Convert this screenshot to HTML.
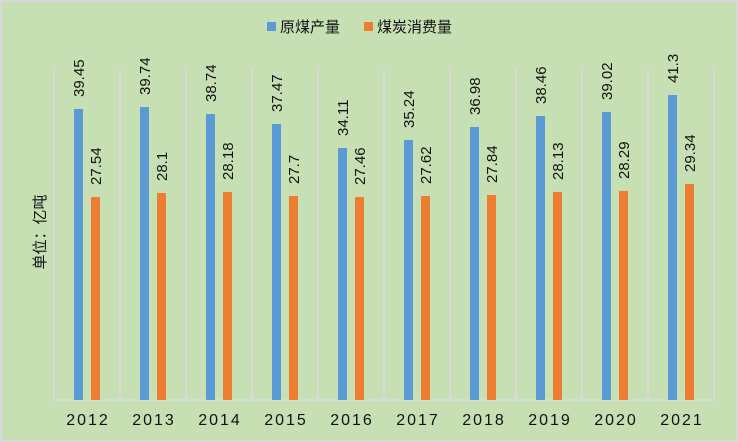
<!DOCTYPE html><html><head><meta charset="utf-8"><style>body{margin:0}svg{display:block}text{font-family:"Liberation Sans","Noto Sans CJK SC",sans-serif;fill:#111}</style></head><body>
<svg width="738" height="442" xmlns="http://www.w3.org/2000/svg">
<rect x="1" y="1" width="736" height="440" fill="#c6e0b4" stroke="#d9d9d9" stroke-width="2"/>
<g stroke="#d9d9d9" stroke-width="2">
<line x1="54" y1="68" x2="54" y2="400"/><line x1="120" y1="68" x2="120" y2="400"/><line x1="186" y1="68" x2="186" y2="400"/><line x1="252" y1="68" x2="252" y2="400"/><line x1="318" y1="68" x2="318" y2="400"/><line x1="384" y1="68" x2="384" y2="400"/><line x1="450" y1="68" x2="450" y2="400"/><line x1="516" y1="68" x2="516" y2="400"/><line x1="582" y1="68" x2="582" y2="400"/><line x1="648" y1="68" x2="648" y2="400"/><line x1="714" y1="68" x2="714" y2="400"/>
<line x1="53" y1="400" x2="715" y2="400"/>
</g>
<g fill="#5b9bd5">
<rect x="74" y="109" width="9" height="291"/><rect x="140" y="107" width="9" height="293"/><rect x="206" y="114" width="9" height="286"/><rect x="272" y="124" width="9" height="276"/><rect x="338" y="148" width="9" height="252"/><rect x="404" y="140" width="9" height="260"/><rect x="470" y="127" width="9" height="273"/><rect x="536" y="116" width="9" height="284"/><rect x="602" y="112" width="9" height="288"/><rect x="668" y="95" width="9" height="305"/>
</g>
<g fill="#ed7d31">
<rect x="91" y="197" width="9" height="203"/><rect x="157" y="193" width="9" height="207"/><rect x="223" y="192" width="9" height="208"/><rect x="289" y="196" width="9" height="204"/><rect x="355" y="197" width="9" height="203"/><rect x="421" y="196" width="9" height="204"/><rect x="487" y="195" width="9" height="205"/><rect x="553" y="192" width="9" height="208"/><rect x="619" y="191" width="9" height="209"/><rect x="685" y="184" width="9" height="216"/>
</g>
<g font-size="15">
<text transform="translate(84,97) rotate(-90)">39.45</text>
<text transform="translate(150,95) rotate(-90)">39.74</text>
<text transform="translate(216,102) rotate(-90)">38.74</text>
<text transform="translate(282,112) rotate(-90)">37.47</text>
<text transform="translate(348,136) rotate(-90)">34.11</text>
<text transform="translate(414,128) rotate(-90)">35.24</text>
<text transform="translate(480,115) rotate(-90)">36.98</text>
<text transform="translate(546,104) rotate(-90)">38.46</text>
<text transform="translate(612,100) rotate(-90)">39.02</text>
<text transform="translate(678,83) rotate(-90)">41.3</text>
<text transform="translate(101,185) rotate(-90)">27.54</text>
<text transform="translate(167,181) rotate(-90)">28.1</text>
<text transform="translate(233,180) rotate(-90)">28.18</text>
<text transform="translate(299,184) rotate(-90)">27.7</text>
<text transform="translate(365,185) rotate(-90)">27.46</text>
<text transform="translate(431,184) rotate(-90)">27.62</text>
<text transform="translate(497,183) rotate(-90)">27.84</text>
<text transform="translate(563,180) rotate(-90)">28.13</text>
<text transform="translate(629,179) rotate(-90)">28.29</text>
<text transform="translate(695,172) rotate(-90)">29.34</text>
</g>
<g font-size="16" text-anchor="middle" letter-spacing="2">
<text x="88" y="425">2012</text><text x="154" y="425">2013</text><text x="220" y="425">2014</text><text x="286" y="425">2015</text><text x="352" y="425">2016</text><text x="418" y="425">2017</text><text x="484" y="425">2018</text><text x="550" y="425">2019</text><text x="616" y="425">2020</text><text x="682" y="425">2021</text>
</g>
<rect x="267" y="22" width="9" height="9" fill="#5b9bd5"/>
<text x="280" y="32" font-size="15">原煤产量</text>
<rect x="364" y="22" width="9" height="9" fill="#ed7d31"/>
<text x="377" y="32" font-size="15">煤炭消费量</text>
<text transform="translate(45,232) rotate(-90)" font-size="15" text-anchor="middle">单位：亿吨</text>
</svg></body></html>
